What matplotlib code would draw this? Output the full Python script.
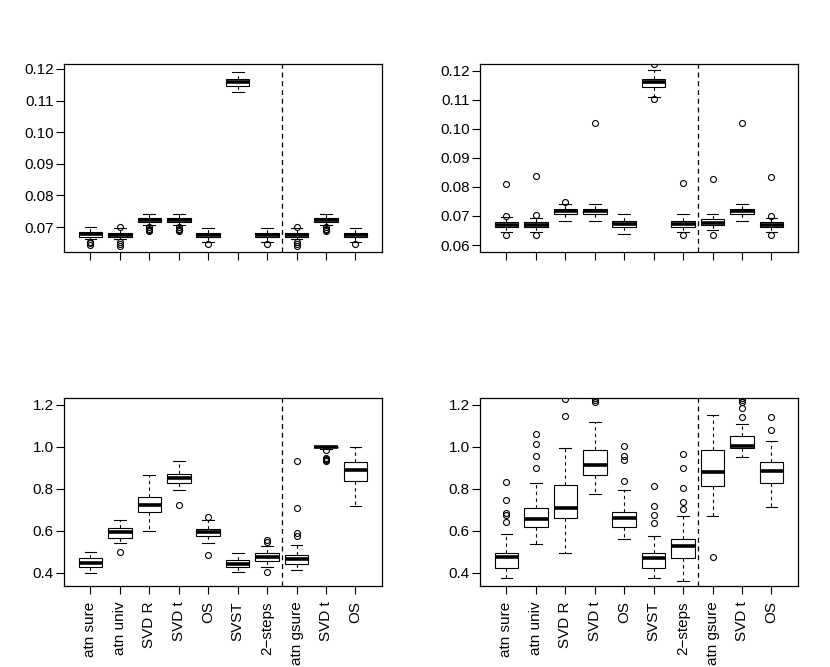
import matplotlib
matplotlib.use('Agg')
from matplotlib import pyplot as plt

plt.rcParams['font.family'] = ['Liberation Sans', 'DejaVu Sans']

labels = ['atn sure', 'atn univ', 'SVD R', 'SVD t', 'OS', 'SVST', '2\u2212steps', 'atn gsure', 'SVD t', 'OS']

# top left panel
tl_lo = [0.0661, 0.0661, 0.0706, 0.0706, 0.0654, 0.1126, 0.0654, 0.0661, 0.0706, 0.0654]
tl_q1 = [0.0669, 0.0667, 0.0715, 0.0715, 0.0667, 0.1146, 0.0667, 0.0667, 0.0715, 0.0667]
tl_med = [0.0678, 0.0675, 0.0722, 0.0722, 0.0675, 0.1158, 0.0675, 0.0675, 0.0722, 0.0675]
tl_q3 = [0.0685, 0.0682, 0.0729, 0.0729, 0.0682, 0.1169, 0.0682, 0.0682, 0.0729, 0.0682]
tl_hi = [0.0699, 0.0697, 0.0741, 0.0741, 0.0696, 0.1190, 0.0696, 0.0697, 0.0741, 0.0696]
tl_out = [[0.0653, 0.0648, 0.0643], [0.0701, 0.0652, 0.0645, 0.0641],
          [0.0701, 0.0695, 0.0690, 0.0687], [0.0701, 0.0695, 0.0690, 0.0687],
          [0.0645], [], [0.0645], [0.0701, 0.0652, 0.0645, 0.0641],
          [0.0701, 0.0695, 0.0690, 0.0687], [0.0645]]
tl_yticks = [0.07, 0.08, 0.09, 0.10, 0.11, 0.12]

# top right panel
tr_lo = [0.0646, 0.0646, 0.0683, 0.0683, 0.0639, 0.1111, 0.0646, 0.0651, 0.0683, 0.0646]
tr_q1 = [0.0661, 0.0661, 0.0706, 0.0706, 0.0663, 0.1144, 0.0662, 0.0668, 0.0706, 0.0661]
tr_med = [0.0669, 0.0669, 0.0716, 0.0716, 0.0674, 0.1160, 0.0672, 0.0677, 0.0716, 0.0669]
tr_q3 = [0.0678, 0.0678, 0.0725, 0.0725, 0.0683, 0.1171, 0.0682, 0.0690, 0.0725, 0.0678]
tr_hi = [0.0698, 0.0692, 0.0741, 0.0741, 0.0706, 0.1203, 0.0706, 0.0706, 0.0741, 0.0692]
tr_out = [[0.0811, 0.0701, 0.0634], [0.0839, 0.0702, 0.0634], [0.0749], [0.1021], [],
          [0.1225, 0.1103], [0.0815, 0.0634], [0.0829, 0.0634], [0.1021],
          [0.0836, 0.0701, 0.0634]]
tr_yticks = [0.06, 0.07, 0.08, 0.09, 0.10, 0.11, 0.12]

# bottom left panel
bl_lo = [0.400, 0.5415, 0.6004, 0.7928, 0.540, 0.4048, 0.4286, 0.4127, 0.990, 0.7197]
bl_q1 = [0.4254, 0.567, 0.6879, 0.8294, 0.5734, 0.4254, 0.4557, 0.4398, 0.997, 0.839]
bl_med = [0.4477, 0.594, 0.7229, 0.850, 0.5956, 0.443, 0.4748, 0.4668, 0.9995, 0.8899]
bl_q3 = [0.4685, 0.6115, 0.7626, 0.8724, 0.6083, 0.4604, 0.4922, 0.4859, 1.0, 0.9248]
bl_hi = [0.4986, 0.6529, 0.8644, 0.9328, 0.6513, 0.4954, 0.527, 0.532, 1.0, 1.0]
bl_out = [[], [0.497], [], [0.7213], [0.664, 0.4859], [], [0.556, 0.548, 0.4016],
          [0.9328, 0.7101, 0.5877, 0.5765], [0.985, 0.948, 0.942, 0.935, 0.930], []]

# bottom right panel
br_lo = [0.373, 0.5352, 0.4922, 0.7754, 0.5606, 0.373, 0.360, 0.6704, 0.9487, 0.7149]
br_q1 = [0.4239, 0.6195, 0.6592, 0.866, 0.6195, 0.4239, 0.4684, 0.8135, 0.9932, 0.8294]
br_med = [0.4732, 0.6545, 0.707, 0.9121, 0.6593, 0.4684, 0.5272, 0.8787, 1.0012, 0.8851]
br_q3 = [0.4954, 0.707, 0.8183, 0.9821, 0.691, 0.4922, 0.559, 0.9853, 1.0489, 0.9248]
br_hi = [0.5829, 0.8294, 0.9948, 1.1157, 0.7944, 0.5765, 0.672, 1.1523, 1.1093, 1.0282]
br_out = [[0.831, 0.7467, 0.6863, 0.6752, 0.6433], [1.0616, 1.0123, 0.9567, 0.8978],
          [1.2286, 1.1443], [1.232, 1.224, 1.213], [1.0012, 0.9535, 0.9376, 0.839],
          [0.8135, 0.7197, 0.6752, 0.6354], [0.9646, 0.8978, 0.8056, 0.7356, 0.7038],
          [0.4763], [1.232, 1.222, 1.215, 1.184, 1.141], [1.1411, 1.0775]]
b_yticks = [0.4, 0.6, 0.8, 1.0, 1.2]


def panel(ax, lo, q1, med, q3, hi, out, ylim, yticks, fmt, show_labels):
    stats = []
    for i in range(len(med)):
        stats.append({'whislo': lo[i], 'q1': q1[i], 'med': med[i], 'q3': q3[i],
                      'whishi': hi[i], 'fliers': out[i]})
    pos = list(range(1, len(med) + 1))
    ax.bxp(stats, positions=pos, widths=0.8, patch_artist=True,
           boxprops=dict(facecolor='white', edgecolor='black', linewidth=0.8),
           whiskerprops=dict(color='black', linewidth=0.8, linestyle=(0, (3, 3))),
           capprops=dict(color='black', linewidth=0.8),
           medianprops=dict(color='black', linewidth=2.6, solid_capstyle='butt'),
           flierprops=dict(marker='o', markerfacecolor='none', markeredgecolor='black',
                           markersize=4.3, markeredgewidth=0.8))
    ax.axvline(7.5, color='black', linestyle=(0, (4, 3)), linewidth=0.9)
    ax.set_xlim(0.1, 10.9)
    ax.set_ylim(*ylim)
    ax.set_yticks(yticks)
    ax.set_yticklabels([fmt % t for t in yticks])
    ax.set_xticks(pos)
    if show_labels:
        ax.set_xticklabels(labels, rotation=90, va='top', ha='center')
    else:
        ax.set_xticklabels([''] * len(pos))
    ax.tick_params(axis='both', direction='out', length=5.5, width=0.8, labelsize=11)
    ax.tick_params(axis='y', pad=2)
    ax.tick_params(axis='x', pad=5.5)
    for s in ax.spines.values():
        s.set_linewidth(0.9)


fig = plt.figure(figsize=(8.3, 6.67), dpi=100)
w = 0.383
h = 0.282
ax1 = fig.add_axes([0.0771, 0.6222, w, h])
ax2 = fig.add_axes([0.5783, 0.6222, w, h])
ax3 = fig.add_axes([0.0771, 0.1214, w, h])
ax4 = fig.add_axes([0.5783, 0.1214, w, h])

panel(ax1, tl_lo, tl_q1, tl_med, tl_q3, tl_hi, tl_out, (0.0621, 0.1216), tl_yticks, '%.2f', False)
panel(ax2, tr_lo, tr_q1, tr_med, tr_q3, tr_hi, tr_out, (0.0576, 0.1224), tr_yticks, '%.2f', False)
panel(ax3, bl_lo, bl_q1, bl_med, bl_q3, bl_hi, bl_out, (0.337, 1.232), b_yticks, '%.1f', True)
panel(ax4, br_lo, br_q1, br_med, br_q3, br_hi, br_out, (0.337, 1.232), b_yticks, '%.1f', True)

plt.savefig('out.png', dpi=100)
